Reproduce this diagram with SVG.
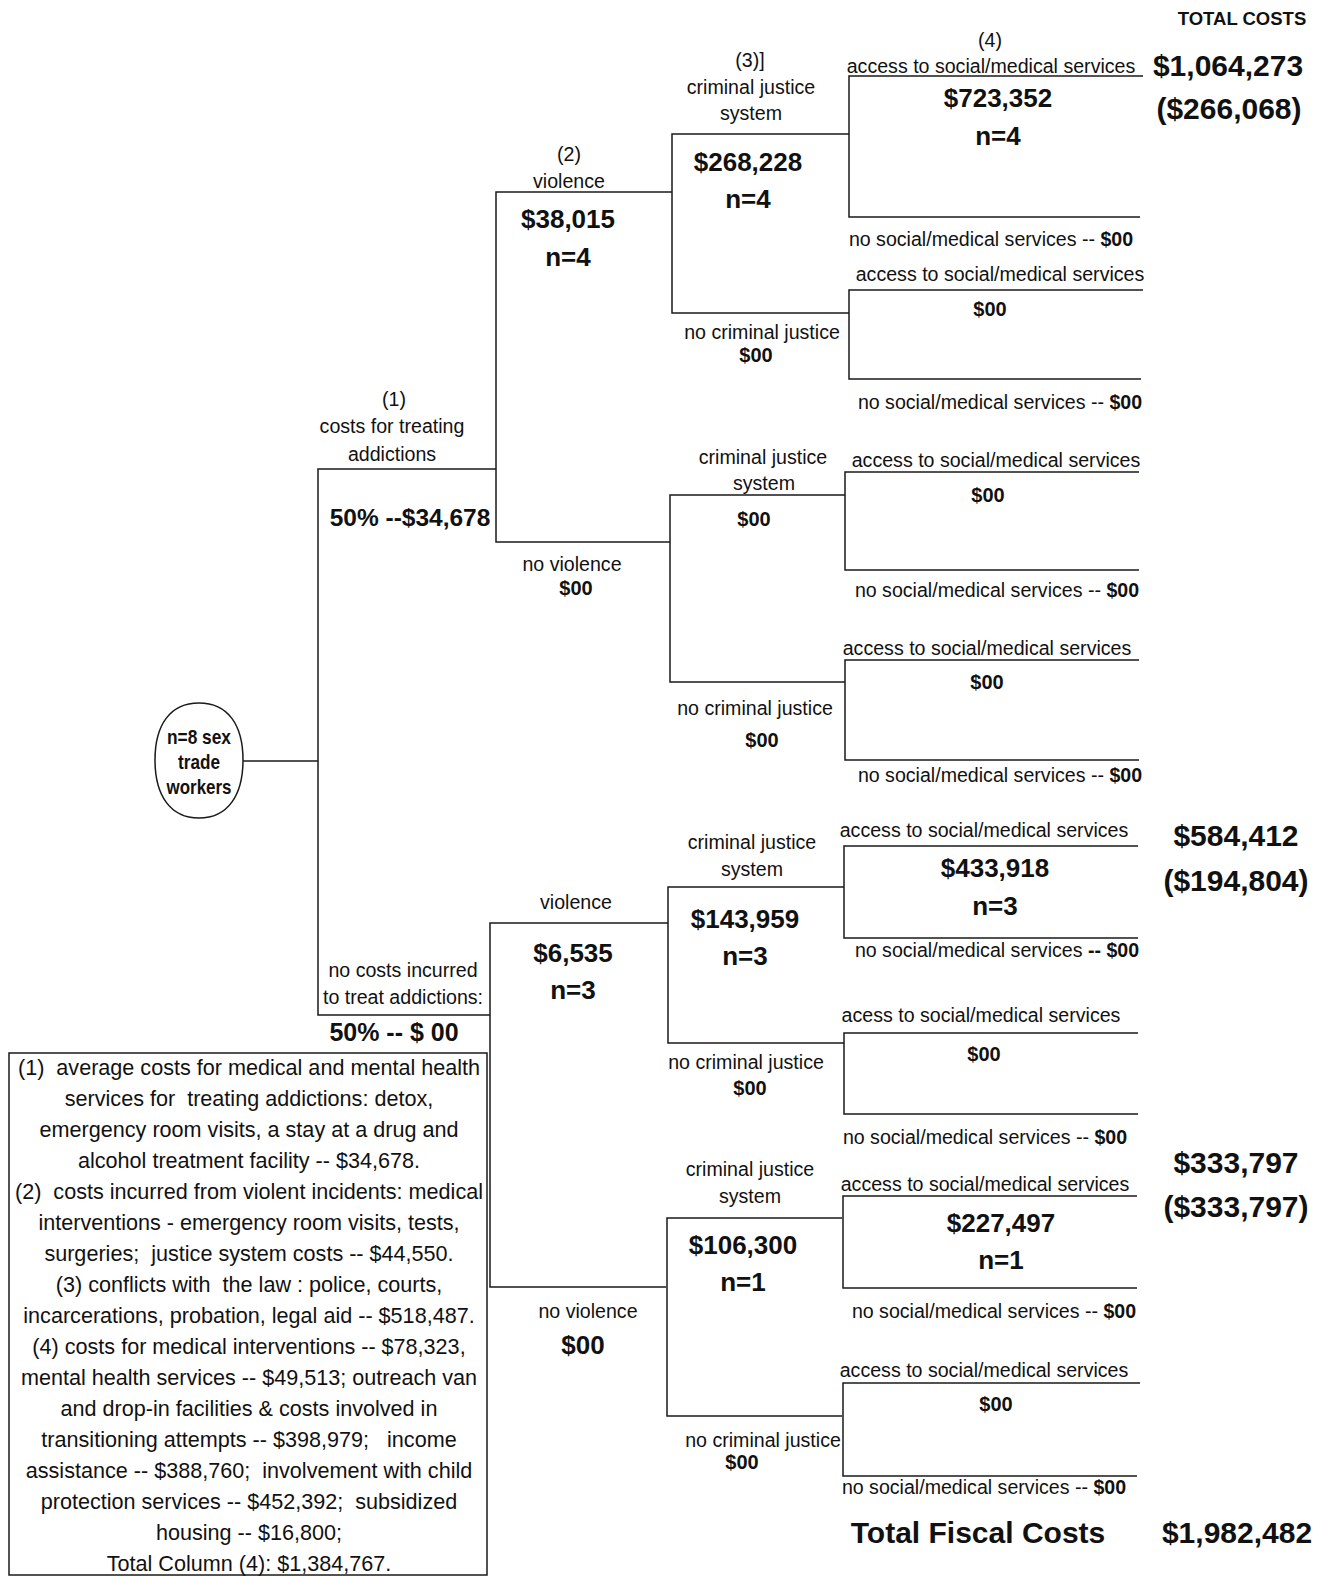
<svg xmlns="http://www.w3.org/2000/svg" width="1331" height="1577" viewBox="0 0 1331 1577">
<style>
text{font-family:"Liberation Sans",Arial,sans-serif;fill:#111;text-anchor:middle}
.s{font-size:19.6px}
.b{font-size:26px;font-weight:bold}
.bs{font-size:20px;font-weight:bold}
.big{font-size:30px;font-weight:bold}
.leg{font-size:21.6px;white-space:pre}
.k{font-weight:bold}
.ln{fill:none;stroke:#1a1a1a;stroke-width:1.5}
</style>
<rect width="1331" height="1577" fill="#fff"/>
<g id="connectors" class="ln">
<path d="M243 761 H318"/>
<path d="M496 469 H318 V1015 H490"/>
<path d="M672 192 H496 V542 H670"/>
<path d="M849 134 H672 V313 H849"/>
<path d="M1143 76 H849 V217 H1140"/>
<path d="M1143 290 H849 V379 H1141"/>
<path d="M845 495 H670 V682 H845"/>
<path d="M1139 472 H845 V570 H1139"/>
<path d="M1139 660 H845 V760 H1139"/>
<path d="M668 923 H490 V1287 H666"/>
<path d="M844 887 H668 V1043 H844"/>
<path d="M1138 846 H844 V938 H1138"/>
<path d="M1138 1033 H844 V1114 H1138"/>
<path d="M842 1218 H667 V1416 H842"/>
<path d="M1137 1196 H843 V1288 H1137"/>
<path d="M1140 1383 H843 V1476 H1137"/>
</g>
<g id="root">
<path class="ln" d="M199 703 C228 703 243 725 243 760 C243 795 228 818 199 818 C170 818 155 795 155 760 C155 725 170 703 199 703 Z"/>
<text class="k" style="font-size:21px" x="199" y="744" textLength="64" lengthAdjust="spacingAndGlyphs">n=8 sex</text>
<text class="k" style="font-size:21px" x="199" y="769" textLength="42" lengthAdjust="spacingAndGlyphs">trade</text>
<text class="k" style="font-size:21px" x="199" y="794" textLength="65" lengthAdjust="spacingAndGlyphs">workers</text>
</g>
<g id="total-costs-header">
<text class="k" style="font-size:18.5px" x="1242" y="25">TOTAL COSTS</text>
</g>
<g id="addictions-yes">
<text class="s" x="394" y="406">(1)</text>
<text class="s" x="392" y="433">costs for treating</text>
<text class="s" x="392" y="461">addictions</text>
<text class="k" style="font-size:24.5px" x="410" y="526">50% --$34,678</text>
</g>
<g id="violence-1">
<text class="s" x="569" y="161">(2)</text>
<text class="s" x="569" y="188">violence</text>
<text class="b" x="568" y="228">$38,015</text>
<text class="b" x="568" y="266">n=4</text>
</g>
<g id="cj-1">
<text class="s" x="750" y="67">(3)]</text>
<text class="s" x="751" y="94">criminal justice</text>
<text class="s" x="751" y="120">system</text>
<text class="b" x="748" y="171">$268,228</text>
<text class="b" x="748" y="208">n=4</text>
</g>
<g id="access-1">
<text class="s" x="990" y="47">(4)</text>
<text class="s" x="991" y="73">access to social/medical services</text>
<text class="b" x="998" y="107">$723,352</text>
<text class="b" x="998" y="145">n=4</text>
<text class="s" x="991" y="246">no social/medical services -- <tspan class="k">$00</tspan></text>
</g>
<g id="total-1">
<text class="big" x="1228" y="76">$1,064,273</text>
<text class="big" x="1229" y="119">($266,068)</text>
</g>
<g id="nocj-1">
<text class="s" x="762" y="339">no criminal justice</text>
<text class="bs" x="756" y="362">$00</text>
</g>
<g id="access-2">
<text class="s" x="1000" y="281">access to social/medical services</text>
<text class="bs" x="990" y="316">$00</text>
<text class="s" x="1000" y="409">no social/medical services -- <tspan class="k">$00</tspan></text>
</g>
<g id="noviolence-1">
<text class="s" x="572" y="571">no violence</text>
<text class="bs" x="576" y="595">$00</text>
</g>
<g id="cj-2">
<text class="s" x="763" y="464">criminal justice</text>
<text class="s" x="764" y="490">system</text>
<text class="bs" x="754" y="526">$00</text>
</g>
<g id="access-3">
<text class="s" x="996" y="467">access to social/medical services</text>
<text class="bs" x="988" y="502">$00</text>
<text class="s" x="997" y="597">no social/medical services -- <tspan class="k">$00</tspan></text>
</g>
<g id="nocj-2">
<text class="s" x="755" y="715">no criminal justice</text>
<text class="bs" x="762" y="747">$00</text>
</g>
<g id="access-4">
<text class="s" x="987" y="655">access to social/medical services</text>
<text class="bs" x="987" y="689">$00</text>
<text class="s" x="1000" y="782">no social/medical services -- <tspan class="k">$00</tspan></text>
</g>
<g id="addictions-no">
<text class="s" x="403" y="977">no costs incurred</text>
<text class="s" x="403" y="1004">to treat addictions:</text>
<text class="k" style="font-size:25px" x="394" y="1041">50% -- $ 00</text>
</g>
<g id="violence-2">
<text class="s" x="576" y="909">violence</text>
<text class="b" x="573" y="962">$6,535</text>
<text class="b" x="573" y="999">n=3</text>
</g>
<g id="cj-3">
<text class="s" x="752" y="849">criminal justice</text>
<text class="s" x="752" y="876">system</text>
<text class="b" x="745" y="928">$143,959</text>
<text class="b" x="745" y="965">n=3</text>
</g>
<g id="access-5">
<text class="s" x="984" y="837">access to social/medical services</text>
<text class="b" x="995" y="877">$433,918</text>
<text class="b" x="995" y="915">n=3</text>
<text class="s" x="997" y="957">no social/medical services <tspan class="k">-- $00</tspan></text>
</g>
<g id="total-2">
<text class="big" x="1236" y="846">$584,412</text>
<text class="big" x="1236" y="891">($194,804)</text>
</g>
<g id="nocj-3">
<text class="s" x="746" y="1069">no criminal justice</text>
<text class="bs" x="750" y="1095">$00</text>
</g>
<g id="access-6">
<text class="s" x="981" y="1022">acess to social/medical services</text>
<text class="bs" x="984" y="1061">$00</text>
<text class="s" x="985" y="1144">no social/medical services -- <tspan class="k">$00</tspan></text>
</g>
<g id="total-3">
<text class="big" x="1236" y="1173">$333,797</text>
<text class="big" x="1236" y="1217">($333,797)</text>
</g>
<g id="noviolence-2">
<text class="s" x="588" y="1318">no violence</text>
<text class="b" x="583" y="1354">$00</text>
</g>
<g id="cj-4">
<text class="s" x="750" y="1176">criminal justice</text>
<text class="s" x="750" y="1203">system</text>
<text class="b" x="743" y="1254">$106,300</text>
<text class="b" x="743" y="1291">n=1</text>
</g>
<g id="access-7">
<text class="s" x="985" y="1191">access to social/medical services</text>
<text class="b" x="1001" y="1232">$227,497</text>
<text class="b" x="1001" y="1269">n=1</text>
<text class="s" x="994" y="1318">no social/medical services -- <tspan class="k">$00</tspan></text>
</g>
<g id="nocj-4">
<text class="s" x="763" y="1447">no criminal justice</text>
<text class="bs" x="742" y="1469">$00</text>
</g>
<g id="access-8">
<text class="s" x="984" y="1377">access to social/medical services</text>
<text class="bs" x="996" y="1411">$00</text>
<text class="s" x="984" y="1494">no social/medical services -- <tspan class="k">$00</tspan></text>
</g>
<g id="total-fiscal">
<text class="big" x="978" y="1543">Total Fiscal Costs</text>
<text class="big" x="1237" y="1543">$1,982,482</text>
</g>
<g id="legend">
<rect x="9" y="1053" width="478" height="522" class="ln"/>
<text class="leg" xml:space="preserve" x="249" y="1075">(1)  average costs for medical and mental health</text>
<text class="leg" xml:space="preserve" x="249" y="1106">services for  treating addictions: detox,</text>
<text class="leg" xml:space="preserve" x="249" y="1137">emergency room visits, a stay at a drug and</text>
<text class="leg" xml:space="preserve" x="249" y="1168">alcohol treatment facility -- $34,678.</text>
<text class="leg" xml:space="preserve" x="249" y="1199">(2)  costs incurred from violent incidents: medical</text>
<text class="leg" xml:space="preserve" x="249" y="1230">interventions - emergency room visits, tests,</text>
<text class="leg" xml:space="preserve" x="249" y="1261">surgeries;  justice system costs -- $44,550.</text>
<text class="leg" xml:space="preserve" x="249" y="1292">(3) conflicts with  the law : police, courts,</text>
<text class="leg" xml:space="preserve" x="249" y="1323">incarcerations, probation, legal aid -- $518,487.</text>
<text class="leg" xml:space="preserve" x="249" y="1354">(4) costs for medical interventions -- $78,323,</text>
<text class="leg" xml:space="preserve" x="249" y="1385">mental health services -- $49,513; outreach van</text>
<text class="leg" xml:space="preserve" x="249" y="1416">and drop-in facilities &amp; costs involved in</text>
<text class="leg" xml:space="preserve" x="249" y="1447">transitioning attempts -- $398,979;   income</text>
<text class="leg" xml:space="preserve" x="249" y="1478">assistance -- $388,760;  involvement with child</text>
<text class="leg" xml:space="preserve" x="249" y="1509">protection services -- $452,392;  subsidized</text>
<text class="leg" xml:space="preserve" x="249" y="1540">housing -- $16,800;</text>
<text class="leg" xml:space="preserve" x="249" y="1571">Total Column (4): $1,384,767.</text>
</g>
</svg>
